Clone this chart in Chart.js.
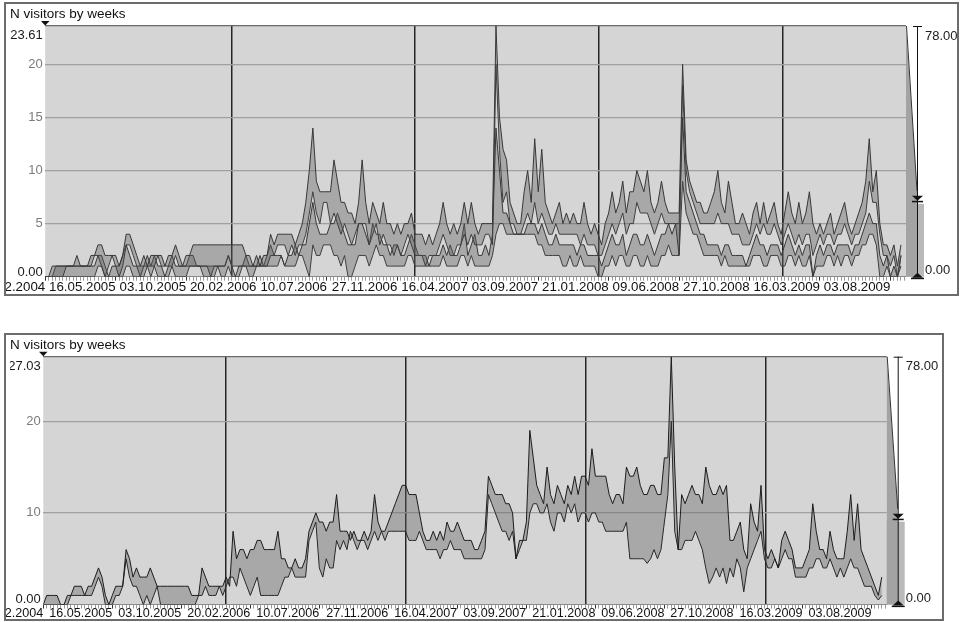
<!DOCTYPE html>
<html><head><meta charset="utf-8">
<script src="https://cdn.jsdelivr.net/npm/chart.js@4.4.1/dist/chart.umd.min.js"></script>
<style>
html,body{margin:0;padding:0;background:#fff;width:960px;height:622px;overflow:hidden}
canvas{position:absolute;left:0}
#c1{top:0;width:960px;height:300px}
#c2{top:330px;width:960px;height:292px}
</style></head><body>
<canvas id="c1" width="960" height="300"></canvas>
<canvas id="c2" width="960" height="292"></canvas>
<script>
// ---------- DATA ----------
const title = 'N visitors by weeks';
const startMs = Date.UTC(2004, 11, 27);   // first week: 27.12.2004
const weekDays = 7;
const tickStepDays = 140;
const xMaxDays = 1711;
const yearStartDays = [370, 735, 1100, 1466];   // 01.01.2006 ... 01.01.2009
const fullRange = [0, 78.00];

// panel 1 : two bands (four weekly series)
const yTicks1 = [0, 5, 10, 15, 20, 23.61];
const p1HiA = [
 0,0,1,1,1,1,1,1,1,2, 1,1,1,2,2,3,3,2,2,2, 2,1,2,4,4,3,2,1,2,1, 2,2,2,2,1,2,2,3,2,1,
 2,2,3,3,3,3,3,3,3,3, 3,3,3,3,3,3,3,2,2,1, 2,1,2,2,4,3,4,4,4,4, 4,3,4,5,7,10,14,9,8,8,
 8,8,11,9,7,7,6,6,5,7, 11,7,5,7,6,5,7,5,5,4, 5,4,5,5,6,4,4,4,3,4, 3,4,5,7,5,4,5,4,5,7,
 5,7,5,4,5,5,5,5,23.61,15, 12,11,7,6,5,5,8,10,7,13, 8,12,7,6,5,6,7,5,6,5, 6,5,5,7,5,4,5,4,3,5,
 6,8,6,7,9,6,8,8,10,9, 8,10,7,6,7,9,7,6,6,6, 6,20,11,9,8,7,7,6,6,7, 8,10,7,6,9,7,5,5,6,5,
 4,6,7,5,7,5,6,7,5,4, 6,8,6,5,7,5,6,8,5,4, 5,4,5,6,4,5,6,7,5,4, 5,6,7,9,13,8,10,5,3,3,
 2,3,1,3];
const p1LoA = [
 0,0,0,0,0,0,1,1,1,1, 1,1,1,1,2,2,1,0,1,2, 1,0,1,3,3,2,1,0,1,1, 1,1,2,1,1,1,1,2,1,1,
 1,1,1,1,1,1,1,0,1,1, 1,1,2,1,1,1,1,1,1,1, 1,1,1,1,2,2,3,3,3,2, 3,2,3,3,4,6,8,6,5,7,
 7,5,6,5,4,5,4,3,4,5, 5,5,3,4,5,3,4,3,3,2, 3,2,3,4,3,2,2,2,1,2, 2,2,3,4,3,2,2,3,3,4,
 3,4,3,3,3,4,4,3,20,12, 7,8,5,5,4,4,5,6,5,7, 5,6,5,4,4,5,4,4,4,4, 4,4,3,4,3,3,3,2,2,3,
 4,5,4,5,6,4,5,5,7,6, 6,6,5,4,5,6,5,5,5,5, 2,18,10,8,7,6,5,5,5,5, 5,6,5,5,5,4,4,4,3,3,
 3,4,5,4,5,4,4,5,4,3, 4,5,4,3,4,3,4,4,2,3, 4,3,4,4,3,4,4,5,4,3, 4,4,5,6,9,7,7,4,2,2,
 1,2,0,2];
const p1HiB = [
 0,0,0,1,1,1,1,1,1,1, 1,1,1,1,1,2,2,1,0,1, 1,1,2,3,2,1,1,1,1,2, 1,2,1,1,0,1,2,1,1,1,
 1,2,2,1,1,1,1,1,1,1, 1,1,2,1,0,1,1,2,1,1, 1,2,1,2,3,2,2,2,1,2, 2,3,2,3,3,5,7,5,4,4,
 4,5,5,6,5,4,3,3,3,5, 5,4,3,5,4,4,3,3,2,3, 3,2,2,3,4,3,2,2,2,1, 2,2,2,3,2,3,2,2,3,5,
 2,3,4,2,2,3,2,4,14,10, 6,6,5,4,4,4,4,5,5,5, 4,5,4,3,3,4,3,3,3,3, 3,2,3,3,2,2,2,2,1,2,
 3,4,3,3,4,2,3,4,4,3, 3,4,3,2,3,4,4,5,4,5, 5,15,8,7,6,5,4,4,3,3, 3,3,2,3,3,2,2,2,2,1,
 2,3,4,3,3,2,3,3,3,2, 3,4,3,2,3,2,3,3,0,2, 3,2,3,3,2,3,3,3,3,2, 3,3,4,5,6,5,5,2,1,2,
 0,1,0,2];
const p1LoB = [
 0,0,0,0,0,0,0,0,0,0, 0,0,0,0,0,1,1,0,0,0, 0,0,0,1,1,0,0,0,0,1, 0,1,0,0,0,0,1,0,0,0,
 0,1,1,1,1,0,0,0,0,1, 0,0,1,0,0,0,1,1,0,0, 1,1,1,1,1,1,1,2,1,1, 1,1,2,2,1,0,3,2,2,3,
 3,3,2,2,1,2,0,0,1,2, 2,2,1,2,3,2,2,1,1,1, 1,1,1,2,2,1,1,1,1,1, 1,1,1,2,1,1,1,1,2,2,
 1,2,1,1,1,1,1,2,4,5, 5,4,4,4,4,4,4,4,4,4, 3,3,2,2,2,2,2,1,1,2, 1,1,2,1,1,1,1,0,0,1,
 1,2,1,2,2,1,1,2,2,1, 1,2,1,1,1,2,2,3,2,2, 2,9,6,5,4,4,3,2,2,2, 2,2,1,2,1,1,1,1,1,1,
 1,2,2,2,1,1,2,2,2,1, 1,2,2,1,2,1,1,2,0,1, 1,1,2,2,1,2,1,2,2,1, 2,2,3,3,4,4,3,0,0,1,
 0,0,0,1];

// panel 2 : one band (two weekly series)
const yTicks2 = [0, 10, 20, 27.03];
const p2Hi = [
 0,1,1,1,1,0,0,1,1,2, 2,2,1,2,2,3,4,3,1,0, 1,2,2,2,6,5,3,4,3,3, 3,4,3,2,2,2,2,2,2,2,
 2,2,2,1,1,1,4,3,2,2, 2,2,2,3,2,8,5,6,6,5, 6,6,7,7,6,6,6,6,8,5, 5,4,4,5,4,4,5,8,9,10,
 9,9,8,9,9,12,8,8,8,7, 8,7,7,8,7,8,12,9,8,8, 9,10,11,12,13,13,12,12,12,10, 8,7,7,8,7,8,7,9,8,8,
 9,8,7,7,7,6,6,7,8,14, 13,12,12,12,11,11,10,5,7,7, 9,19,16,13,12,11,15,12,11,13, 12,11,13,12,14,12,14,14,13,17,
 14,14,14,14,12,11,12,12,11,15, 14,14,15,13,12,12,13,13,12,12, 16,16,27.03,15,6,12,11,12,13,12, 12,11,15,13,12,12,13,12,13,7,
 7,8,9,6,5,11,9,8,13,6, 5,6,5,4,7,8,7,6,4,4, 4,5,6,11,8,6,6,5,8,6, 5,5,5,8,12,7,11,6,5,4,
 3,2,1,3];
const p2Lo = [
 0,0,0,0,0,0,0,0,1,1, 1,1,1,1,1,2,3,2,0,0, 0,1,1,2,5,3,2,2,1,0, 1,0,1,2,0,0,0,0,0,0,
 0,0,0,0,0,1,1,2,1,1, 1,2,1,2,3,3,2,4,3,2, 1,2,3,1,1,1,1,1,1,2, 3,3,4,3,3,3,3,7,8,9,
 4,3,5,4,4,7,6,7,6,8, 7,6,7,7,6,7,8,7,8,7, 8,8,8,8,8,8,7,7,7,8, 7,6,6,6,6,5,6,6,7,6,
 6,6,5,5,5,5,5,5,6,12, 11,10,9,8,8,7,8,5,6,7, 7,10,11,11,10,10,11,9,8,10, 10,9,11,10,11,9,10,10,9,10,
 10,9,9,8,8,8,8,8,8,9, 5,5,5,5,5,4.5,5,6,5,6, 9,12,20,8,6,6,7,7,7,8, 7,6,4,2.3,3,4,3,4,2.3,4,
 3,5,4,1.4,4,5,6,7,8,5, 4,4,5,4,5,6,5,5,3,3, 3,3,4,4,5,5,4,4,5,4, 3,4,3,4,5,4,4,3,2,2,
 2,1,0.5,1];

// ---------- STYLE / HELPERS ----------
const FONT = '"Liberation Sans", Arial, Helvetica, sans-serif';
const PLOT_BG = '#d5d5d5';
const BAND_FILL = 'rgba(95,95,95,0.38)';

function fmtDate(d){
  const t = new Date(startMs + d * 86400000);
  const p = n => String(n).padStart(2, '0');
  return p(t.getUTCDate()) + '.' + p(t.getUTCMonth() + 1) + '.' + t.getUTCFullYear();
}
const pts = arr => arr.map((v, i) => ({x: i * weekDays, y: v}));

const bgPlugin = {
  id: 'bg',
  beforeDraw(chart){
    const {ctx, chartArea: a} = chart;
    ctx.save();
    ctx.fillStyle = '#fff'; ctx.fillRect(0, 0, chart.width, chart.height);
    ctx.fillStyle = PLOT_BG; ctx.fillRect(a.left, a.top, a.right - a.left, a.bottom - a.top);
    ctx.restore();
  }
};

const decoPlugin = {
  id: 'deco',
  afterDraw(chart, args, o){
    const {ctx, chartArea: a} = chart;
    const s = chart.scales.yw;
    ctx.save();
    // clip the overflowing first date label at the frame
    ctx.fillStyle = '#fff'; ctx.fillRect(0, 0, o.fl - 1, chart.height);
    // frame
    ctx.strokeStyle = '#6c6c6c'; ctx.lineWidth = 2;
    ctx.strokeRect(o.fl, o.ft, o.fr - o.fl, o.fb - o.ft);
    // marker above plot corner
    ctx.fillStyle = '#111';
    ctx.beginPath(); ctx.moveTo(a.left - 4.3, a.top - 5); ctx.lineTo(a.left + 4.3, a.top - 5); ctx.lineTo(a.left, a.top - 0.5); ctx.closePath(); ctx.fill();
    // range widget
    const L = a.right, X = L + 11, R = L + 18;
    const yTop = s.getPixelForValue(fullRange[1]), yView = s.getPixelForValue(o.view), y0 = s.getPixelForValue(fullRange[0]);
    ctx.fillStyle = '#b9b9b9'; ctx.fillRect(L, yView + 3, R - L, y0 - yView - 3);
    ctx.fillStyle = '#a3a3a3';
    ctx.beginPath(); ctx.moveTo(L, yTop); ctx.lineTo(X, yView - 10); ctx.lineTo(X, y0); ctx.lineTo(L, y0); ctx.closePath(); ctx.fill();
    ctx.strokeStyle = '#333'; ctx.lineWidth = 1;
    ctx.beginPath(); ctx.moveTo(L + 0.5, yTop); ctx.lineTo(X, yView - 10); ctx.stroke();
    ctx.strokeStyle = '#111';
    ctx.beginPath(); ctx.moveTo(X + 0.5, yTop); ctx.lineTo(X + 0.5, y0); ctx.stroke();
    ctx.beginPath(); ctx.moveTo(X - 4, yTop + 0.5); ctx.lineTo(X + 5, yTop + 0.5); ctx.stroke();
    ctx.fillStyle = '#111';
    ctx.beginPath(); ctx.moveTo(X - 5, yView - 5); ctx.lineTo(X + 6, yView - 5); ctx.lineTo(X + 0.5, yView); ctx.closePath(); ctx.fill();
    ctx.fillRect(X - 5, yView, 11, 1.5);
    ctx.beginPath(); ctx.moveTo(X - 5, y0 + 1); ctx.lineTo(X + 6, y0 + 1); ctx.lineTo(X + 0.5, y0 - 4); ctx.closePath(); ctx.fill();
    ctx.fillRect(X - 6, y0 + 1, 13, 1.5);
    ctx.fillStyle = '#222'; ctx.font = '13px ' + FONT; ctx.textAlign = 'left'; ctx.textBaseline = 'middle';
    ctx.fillText(fullRange[1].toFixed(2), R + 1, yTop + 10);
    ctx.fillText(fullRange[0].toFixed(2), R + 1, y0 - 6);
    ctx.restore();
  }
};

function build(canvasId, geo, yTicks, bands){
  const yMax = yTicks[yTicks.length - 1];
  const datasets = [];
  bands.forEach(([hi, lo]) => {
    datasets.push({data: pts(hi), fill: '+1', backgroundColor: BAND_FILL, borderColor: geo.line, borderWidth: 1, pointRadius: 0, tension: 0});
    datasets.push({data: pts(lo), fill: false, borderColor: geo.line, borderWidth: 1, pointRadius: 0, tension: 0});
  });
  return new Chart(document.getElementById(canvasId), {
    type: 'line',
    data: {datasets},
    plugins: [bgPlugin, decoPlugin],
    options: {
      responsive: false, animation: false, devicePixelRatio: 1,
      layout: {padding: {left: 10, right: 960 - geo.right, top: geo.padTop, bottom: 0}},
      plugins: {
        legend: {display: false}, tooltip: {enabled: false},
        title: {display: true, text: title, align: 'start', color: '#111',
                font: {family: FONT, size: 13.5, weight: 'normal'}, padding: {top: 3.9, bottom: geo.titlePadBottom}},
        deco: {fl: 5, ft: geo.ft, fr: geo.fr, fb: geo.fb, view: yMax}
      },
      scales: {
        x: {
          type: 'linear', min: 0, max: xMaxDays, position: 'bottom',
          afterBuildTicks: s => { const t = []; for (let d = 0; d <= xMaxDays; d += weekDays) t.push({value: d}); s.ticks = t; },
          afterFit: s => { s.height = geo.xH; s.paddingLeft = 0; s.paddingRight = 0; },
          grid: {drawOnChartArea: false, drawTicks: true, tickLength: 4, tickWidth: 1,
                 tickColor: c => (c.tick && c.tick.value % tickStepDays === 0) ? '#333' : '#9a9a9a'},
          border: {display: true, color: '#8a8a8a'},
          ticks: {autoSkip: false, maxRotation: 0, minRotation: 0, align: 'end', padding: geo.xPad, color: '#111',
                  font: {family: FONT, size: geo.xFont, lineHeight: 1},
                  callback: v => v % tickStepDays === 0 ? fmtDate(v) : ''}
        },
        xYear: {
          type: 'linear', min: 0, max: xMaxDays, position: 'bottom', z: 1,
          afterBuildTicks: s => { s.ticks = yearStartDays.map(v => ({value: v})); },
          afterFit: s => { s.height = 0; s.paddingLeft = 0; s.paddingRight = 0; },
          grid: {drawOnChartArea: true, drawTicks: false, color: '#262626', lineWidth: 1.5},
          border: {display: false}, ticks: {display: false}
        },
        y: {
          type: 'linear', min: 0, max: yMax, position: 'left',
          afterBuildTicks: s => { s.ticks = yTicks.map(v => ({value: v})); },
          afterFit: s => { s.width = geo.left - 10; s.paddingTop = 0; s.paddingBottom = 0; },
          grid: {drawTicks: false, lineWidth: 1.2,
                 color: c => { if (!c.tick) return 'rgba(0,0,0,0)'; const v = c.tick.value; return v === yMax ? '#6a6a6a' : (v === 0 ? 'rgba(0,0,0,0)' : '#a0a0a0'); }},
          border: {display: false},
          ticks: {padding: 2.5, font: {family: FONT, size: 13, lineHeight: 0.72},
                  color: c => (c.tick && (c.tick.value === 0 || c.tick.value === yMax)) ? '#1a1a1a' : '#7c7c7c',
                  callback: v => v === yMax ? ['', '', v.toFixed(2)] : (v === 0 ? ['0.00', ''] : String(v))}
        },
        yw: {type: 'linear', min: fullRange[0], max: fullRange[1], display: false}
      }
    }
  });
}

build('c1', {left: 45.2, right: 906, padTop: 2, titlePadBottom: 3.9, xH: 23.3, xFont: 13.3, xPad: 0,
             ft: 3, fr: 958, fb: 295, line: '#383838'},
      yTicks1, [[p1HiA, p1LoA], [p1HiB, p1LoB]]);
build('c2', {left: 43.3, right: 886.7, padTop: 3, titlePadBottom: 3.6, xH: 17.4, xFont: 12.6, xPad: -1,
             ft: 4, fr: 943, fb: 290, line: '#1c1c1c'},
      yTicks2, [[p2Hi, p2Lo]]);
</script>
</body></html>
